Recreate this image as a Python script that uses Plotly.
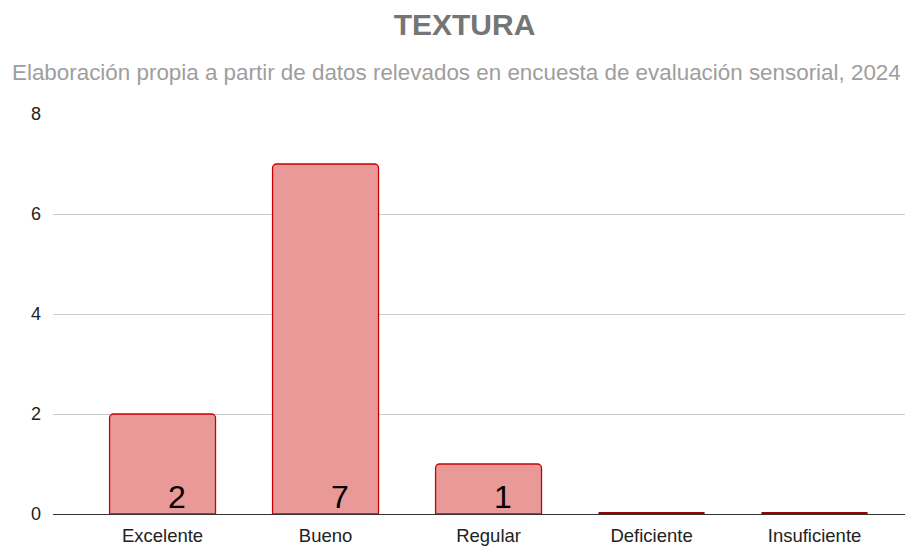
import plotly.graph_objects as go

categorias = ["Excelente", "Bueno", "Regular", "Deficiente", "Insuficiente"]
valores = [2, 7, 1, 0, 0]
y_ticks = [0, 2, 4, 6, 8]

FONT = "Liberation Sans, Arial, sans-serif"

fig = go.Figure()
fig.add_trace(go.Bar(
    x=categorias, y=valores,
    width=0.65,
    marker=dict(color="#ea9999", line=dict(color="#cc0000", width=1.3), cornerradius=4),
    hoverinfo="x+y",
))

# zero values shown as thin dark red strips like the original sheet chart
zeros = [c for c, v in zip(categorias, valores) if v == 0]
fig.add_trace(go.Bar(
    x=zeros, y=[0.04] * len(zeros), width=0.65,
    marker=dict(color="#990000", line=dict(width=0)),
    hoverinfo="skip", showlegend=False,
))

for c, v in zip(categorias, valores):
    if v > 0:
        fig.add_annotation(x=c, y=0, text=str(v), showarrow=False,
                           yanchor="bottom", xshift=14, yshift=-3,
                           font=dict(size=32, color="#000000", family=FONT))

fig.update_layout(
    width=913, height=547,
    margin=dict(l=45, r=1, t=106, b=41),
    plot_bgcolor="white", paper_bgcolor="white",
    showlegend=False, barmode="overlay",
    font=dict(family=FONT, size=18, color="#222222"),
    title=dict(text="<b>TEXTURA</b>", x=0.5, xanchor="center", xref="container",
               y=0.969, yanchor="middle", yref="container",
               font=dict(size=30, color="#757575", family=FONT)),
)
fig.add_annotation(text="Elaboración propia a partir de datos relevados en encuesta de evaluación sensorial, 2024",
                   xref="paper", yref="paper", x=0.5, y=1.105, xanchor="center",
                   xshift=-30, yanchor="middle", showarrow=False,
                   font=dict(size=22.4, color="#9e9e9e", family=FONT))

fig.update_xaxes(range=[-0.672, 4.647], showgrid=False, ticks="", showline=False,
                 ticklabelstandoff=8, tickfont=dict(size=18.5, color="#222222"))
fig.update_yaxes(range=[0, 8], tickvals=y_ticks, showgrid=True, gridcolor="#cccccc",
                 gridwidth=1, zeroline=True, zerolinecolor="#333333", zerolinewidth=1.3,
                 ticks="", ticklabelstandoff=11, tickfont=dict(size=18, color="#222222"))

fig.write_html("out.html")
